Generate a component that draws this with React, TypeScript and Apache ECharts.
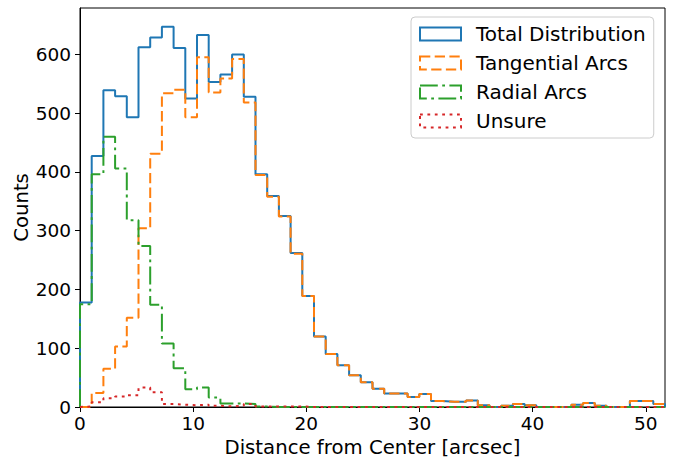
import React, { useEffect, useRef } from "react";
import * as echarts from "echarts";

// Axis ranges and ticks
const X_MIN = 0;
const X_MAX = 51.7;
const Y_MIN = 0;
const Y_MAX = 679;
const xTicks = [0, 10, 20, 30, 40, 50];
const yTicks = [0, 100, 200, 300, 400, 500, 600];

const seriesNames = ["Total Distribution", "Tangential Arcs", "Radial Arcs", "Unsure"];

// Histogram counts per bin (50 equal bins from X_MIN to X_MAX)
const totalCounts = [
  178, 427, 539, 529, 493, 612, 629, 647, 611, 525,
  633, 553, 566, 600, 528, 396, 359, 325, 262, 189,
  120, 90, 71, 54, 42, 31, 23, 23, 17, 22,
  10, 9, 9, 11, 3, 0, 2, 5, 3, 0,
  0, 0, 4, 7, 2, 0, 0, 10, 10, 5,
];
const tangentialCounts = [
  0, 24, 65, 103, 152, 304, 431, 534, 540, 493,
  595, 535, 559, 592, 518, 395, 358, 324, 261, 189,
  120, 90, 71, 54, 42, 31, 23, 23, 17, 22,
  10, 9, 9, 11, 3, 0, 2, 5, 3, 0,
  0, 0, 4, 7, 2, 0, 0, 10, 10, 5,
];
const radialCounts = [
  175, 396, 460, 406, 318, 274, 174, 108, 66, 30,
  33, 16, 6, 6, 5, 1, 0, 0, 0, 0,
  0, 0, 0, 0, 0, 0, 0, 0, 0, 0,
  0, 0, 0, 0, 0, 0, 0, 0, 0, 0,
  0, 0, 0, 0, 0, 0, 0, 0, 0, 0,
];
const unsureCounts = [
  1, 8, 15, 18, 20, 33, 25, 5, 4, 3,
  4, 2, 1, 2, 5, 1, 1, 1, 1, 0,
  0, 0, 0, 0, 0, 0, 0, 0, 0, 0,
  0, 0, 0, 0, 0, 0, 0, 0, 0, 0,
  0, 0, 0, 0, 0, 0, 0, 0, 0, 0,
];

const FONT = "DejaVu Sans";
const FS = 19.7;

function stepPoints(counts: number[]): number[][] {
  const w = (X_MAX - X_MIN) / counts.length;
  const pts: number[][] = [[X_MIN, 0]];
  counts.forEach((c, i) => {
    pts.push([X_MIN + i * w, c]);
    pts.push([X_MIN + (i + 1) * w, c]);
  });
  pts.push([X_MIN + counts.length * w, 0]);
  return pts;
}

export default function App() {
  const ref = useRef<HTMLDivElement>(null);
  useEffect(() => {
    if (!ref.current) return;
    const chart = echarts.init(ref.current, null, { renderer: "svg" });
    const colors = ["#1f77b4", "#ff7f0e", "#2ca02c", "#d62728"];
    const dashes: any[] = ["solid", [10.3, 4.4], [17.8, 4.4, 2.8, 4.4], [2.8, 4.6]];
    const allCounts = [totalCounts, tangentialCounts, radialCounts, unsureCounts];
    chart.setOption({
      animation: false,
      backgroundColor: "#ffffff",
      textStyle: { fontFamily: FONT },
      grid: {
        left: 80,
        top: 8,
        right: 20,
        bottom: 51,
        containLabel: false,
        outerBoundsMode: "none",
        show: true,
        borderColor: "#000",
        borderWidth: 1,
        backgroundColor: "transparent",
      },
      legend: {
        orient: "vertical",
        left: 411,
        top: 17,
        padding: [7, 8, 7, 8],
        itemWidth: 41,
        itemHeight: 13,
        itemGap: 9,
        backgroundColor: "rgba(255,255,255,0.8)",
        borderColor: "#cccccc",
        borderWidth: 1,
        borderRadius: 4,
        textStyle: {
          fontFamily: FONT,
          fontSize: 20,
          color: "#000",
          lineHeight: 20,
          padding: [0, 0, 0, 10],
        },
        data: seriesNames.map((n, i) => ({
          name: n,
          icon: "rect",
          itemStyle: {
            color: "rgba(0,0,0,0)",
            borderColor: colors[i],
            borderWidth: 2,
            borderType: dashes[i],
          },
        })),
      },
      xAxis: {
        type: "value",
        min: X_MIN,
        max: X_MAX,
        name: "Distance from Center [arcsec]",
        nameLocation: "middle",
        nameGap: 31,
        nameMoveOverlap: false,
        nameTextStyle: { fontFamily: FONT, fontSize: FS, color: "#000", lineHeight: 18 },
        axisLine: { show: true, lineStyle: { color: "#000", width: 1 } },
        axisTick: { show: true, length: 5, lineStyle: { color: "#000" }, customValues: xTicks },
        axisLabel: { fontFamily: FONT, fontSize: 18.5, color: "#000", margin: 8, lineHeight: 16, customValues: xTicks },
        splitLine: { show: false },
      },
      yAxis: {
        type: "value",
        min: Y_MIN,
        max: Y_MAX,
        name: "Counts",
        nameLocation: "middle",
        nameGap: 49,
        nameMoveOverlap: false,
        nameTextStyle: { fontFamily: FONT, fontSize: FS, color: "#000" },
        axisLine: { show: true, lineStyle: { color: "#000", width: 1 } },
        axisTick: { show: true, length: 5, lineStyle: { color: "#000" }, customValues: yTicks },
        axisLabel: { fontFamily: FONT, fontSize: 18.5, color: "#000", margin: 9, customValues: yTicks },
        splitLine: { show: false },
      },
      series: seriesNames.map((n, i) => ({
        name: n,
        type: "line",
        data: stepPoints(allCounts[i]),
        showSymbol: false,
        symbol: "none",
        color: colors[i],
        lineStyle: { color: colors[i], width: 2, type: dashes[i] },
        itemStyle: { color: colors[i] },
        clip: true,
      })),
    });
    return () => chart.dispose();
  }, []);
  return (
    <div
      ref={ref}
      style={{ position: "fixed", left: 0, top: 0, width: 685, height: 458, background: "#fff" }}
    />
  );
}
